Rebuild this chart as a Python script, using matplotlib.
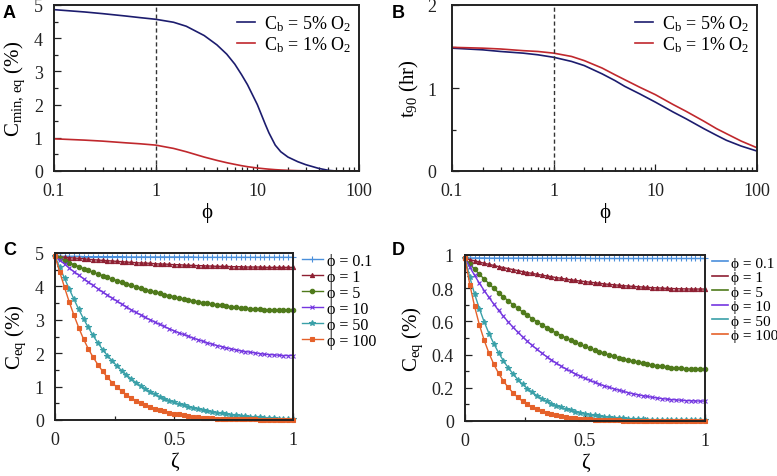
import matplotlib
matplotlib.use('Agg')
import matplotlib.pyplot as plt
from matplotlib.lines import Line2D
from matplotlib.ticker import NullFormatter, MultipleLocator

# ---- panel A / B data ----
phi_a = [0.1, 0.2, 0.3, 0.5, 0.7, 1, 1.5, 2, 3, 4, 5, 6, 7, 8, 10, 12, 13, 15, 17, 20, 25, 30, 40, 50, 60, 100]
cmin_5 = [4.86, 4.79, 4.74, 4.67, 4.62, 4.57, 4.48, 4.36, 4.08, 3.80, 3.52, 3.22, 2.90, 2.60, 2.00, 1.40,
          1.15, 0.78, 0.58, 0.42, 0.28, 0.19, 0.08, 0.02, 0.0, 0.0]
cmin_1 = [0.97, 0.93, 0.90, 0.85, 0.82, 0.78, 0.68, 0.58, 0.42, 0.32, 0.25, 0.20, 0.16, 0.13, 0.09, 0.065,
          0.055, 0.04, 0.03, 0.02, 0.01, 0.005, 0.0, 0.0, 0.0, 0.0]

phi_b = [0.1, 0.2, 0.3, 0.5, 0.7, 1, 1.5, 2, 3, 4, 5, 7, 10, 15, 20, 30, 40, 50, 70, 100]
t90_5 = [1.48, 1.46, 1.44, 1.42, 1.40, 1.37, 1.32, 1.27, 1.17, 1.09, 1.02, 0.93, 0.83, 0.71, 0.63, 0.51,
         0.43, 0.37, 0.30, 0.24]
t90_1 = [1.49, 1.48, 1.47, 1.45, 1.44, 1.42, 1.38, 1.33, 1.24, 1.16, 1.10, 1.01, 0.92, 0.80, 0.72, 0.60,
         0.51, 0.45, 0.36, 0.28]

# ---- panel C / D data ----
zeta = [round(i * 0.02, 2) for i in range(51)]
phi_labels = ['0.1', '1', '5', '10', '50', '100']

c_01 = [4.90, 4.90, 4.90, 4.90, 4.90, 4.90, 4.89, 4.89, 4.89, 4.89,
        4.89, 4.89, 4.89, 4.89, 4.89, 4.88, 4.88, 4.88, 4.88, 4.88,
        4.88, 4.88, 4.88, 4.88, 4.88, 4.88, 4.88, 4.88, 4.88, 4.88,
        4.87, 4.87, 4.87, 4.87, 4.87, 4.87, 4.87, 4.87, 4.87, 4.87,
        4.87, 4.87, 4.87, 4.87, 4.87, 4.87, 4.87, 4.87, 4.87, 4.87,
        4.87]
c_1 = [4.90, 4.89, 4.87, 4.86, 4.85, 4.84, 4.83, 4.81, 4.80, 4.79,
       4.78, 4.77, 4.76, 4.75, 4.74, 4.73, 4.72, 4.71, 4.70, 4.70,
       4.69, 4.68, 4.67, 4.67, 4.66, 4.65, 4.65, 4.64, 4.63, 4.63,
       4.62, 4.62, 4.61, 4.61, 4.60, 4.60, 4.60, 4.59, 4.59, 4.59,
       4.58, 4.58, 4.58, 4.58, 4.57, 4.57, 4.57, 4.57, 4.57, 4.57,
       4.57]
c_5 = [4.90, 4.84, 4.77, 4.71, 4.65, 4.59, 4.53, 4.48, 4.42, 4.37,
       4.32, 4.27, 4.22, 4.17, 4.12, 4.07, 4.03, 3.99, 3.94, 3.90,
       3.86, 3.83, 3.79, 3.75, 3.72, 3.69, 3.65, 3.62, 3.59, 3.57,
       3.54, 3.51, 3.49, 3.47, 3.45, 3.43, 3.41, 3.39, 3.37, 3.36,
       3.34, 3.33, 3.32, 3.31, 3.30, 3.30, 3.29, 3.29, 3.28, 3.28,
       3.28]
c_10 = [4.90, 4.78, 4.67, 4.55, 4.44, 4.34, 4.23, 4.13, 4.03, 3.93,
        3.83, 3.74, 3.65, 3.56, 3.47, 3.39, 3.30, 3.22, 3.15, 3.07,
        3.00, 2.93, 2.86, 2.80, 2.73, 2.67, 2.61, 2.56, 2.51, 2.45,
        2.41, 2.36, 2.31, 2.27, 2.23, 2.20, 2.16, 2.13, 2.10, 2.07,
        2.05, 2.03, 2.01, 1.99, 1.97, 1.96, 1.95, 1.94, 1.93, 1.93,
        1.93]
c_50 = [4.90, 4.57, 4.24, 3.92, 3.61, 3.31, 3.03, 2.77, 2.53, 2.31,
        2.11, 1.93, 1.77, 1.62, 1.48, 1.35, 1.23, 1.12, 1.02, 0.93,
        0.85, 0.77, 0.70, 0.64, 0.58, 0.53, 0.48, 0.44, 0.40, 0.36,
        0.33, 0.30, 0.27, 0.24, 0.22, 0.20, 0.18, 0.16, 0.14, 0.13,
        0.11, 0.10, 0.09, 0.08, 0.07, 0.06, 0.05, 0.04, 0.04, 0.03,
        0.03]
c_100 = [4.90, 4.43, 3.97, 3.53, 3.13, 2.76, 2.42, 2.13, 1.88, 1.66,
         1.46, 1.28, 1.12, 0.98, 0.87, 0.76, 0.66, 0.58, 0.51, 0.45,
         0.39, 0.34, 0.30, 0.26, 0.22, 0.19, 0.17, 0.14, 0.12, 0.10,
         0.09, 0.07, 0.06, 0.05, 0.04, 0.04, 0.03, 0.03, 0.03, 0.02,
         0.02, 0.02, 0.02, 0.01, 0.01, 0.01, 0.01, 0.01, 0.01, 0.01,
         0.01]

d_01 = [0.982, 0.982, 0.982, 0.982, 0.982, 0.981, 0.981, 0.981, 0.981, 0.981,
        0.981, 0.981, 0.981, 0.980, 0.980, 0.980, 0.980, 0.980, 0.980, 0.980,
        0.980, 0.980, 0.980, 0.980, 0.980, 0.980, 0.979, 0.979, 0.979, 0.979,
        0.979, 0.979, 0.979, 0.979, 0.979, 0.979, 0.979, 0.979, 0.979, 0.979,
        0.979, 0.979, 0.979, 0.979, 0.979, 0.979, 0.979, 0.979, 0.979, 0.979,
        0.979]
d_1 = [0.980, 0.972, 0.965, 0.958, 0.950, 0.944, 0.937, 0.930, 0.924, 0.918,
       0.912, 0.906, 0.900, 0.894, 0.889, 0.884, 0.879, 0.874, 0.869, 0.864,
       0.860, 0.855, 0.851, 0.847, 0.843, 0.840, 0.836, 0.833, 0.830, 0.826,
       0.823, 0.821, 0.818, 0.815, 0.813, 0.811, 0.809, 0.807, 0.805, 0.803,
       0.802, 0.801, 0.799, 0.798, 0.797, 0.796, 0.796, 0.795, 0.795, 0.795,
       0.795]
d_5 = [0.980, 0.946, 0.915, 0.884, 0.855, 0.827, 0.799, 0.773, 0.748, 0.724,
       0.701, 0.679, 0.657, 0.637, 0.617, 0.598, 0.580, 0.563, 0.546, 0.530,
       0.515, 0.501, 0.487, 0.474, 0.461, 0.449, 0.438, 0.427, 0.417, 0.407,
       0.398, 0.389, 0.381, 0.373, 0.366, 0.359, 0.353, 0.347, 0.342, 0.337,
       0.333, 0.329, 0.325, 0.322, 0.320, 0.317, 0.315, 0.314, 0.313, 0.312,
       0.312]
d_10 = [0.980, 0.927, 0.877, 0.830, 0.786, 0.744, 0.704, 0.666, 0.631, 0.597,
        0.565, 0.535, 0.507, 0.480, 0.455, 0.431, 0.409, 0.388, 0.368, 0.349,
        0.331, 0.314, 0.299, 0.284, 0.270, 0.257, 0.245, 0.233, 0.222, 0.212,
        0.203, 0.194, 0.186, 0.178, 0.171, 0.164, 0.158, 0.153, 0.148, 0.143,
        0.139, 0.135, 0.132, 0.129, 0.127, 0.125, 0.123, 0.122, 0.121, 0.120,
        0.120]
d_50 = [0.980, 0.866, 0.765, 0.676, 0.597, 0.527, 0.466, 0.411, 0.363, 0.321,
        0.284, 0.250, 0.221, 0.195, 0.173, 0.152, 0.135, 0.119, 0.105, 0.093,
        0.082, 0.072, 0.064, 0.057, 0.050, 0.044, 0.039, 0.034, 0.030, 0.027,
        0.024, 0.021, 0.019, 0.016, 0.015, 0.013, 0.011, 0.010, 0.009, 0.008,
        0.007, 0.006, 0.006, 0.005, 0.005, 0.005, 0.004, 0.004, 0.004, 0.004,
        0.004]
d_100 = [0.980, 0.822, 0.690, 0.579, 0.486, 0.408, 0.342, 0.287, 0.241, 0.202,
         0.170, 0.142, 0.119, 0.100, 0.084, 0.071, 0.059, 0.050, 0.042, 0.035,
         0.029, 0.025, 0.021, 0.017, 0.015, 0.012, 0.010, 0.009, 0.007, 0.006,
         0.005, 0.004, 0.004, 0.003, 0.003, 0.002, 0.002, 0.002, 0.002, 0.001,
         0.001, 0.001, 0.001, 0.001, 0.001, 0.001, 0.001, 0.000, 0.000, 0.000,
         0.000]

c_series = [c_01, c_1, c_5, c_10, c_50, c_100]
d_series = [d_01, d_1, d_5, d_10, d_50, d_100]
colors = ['#4A8FDB', '#8E1F32', '#4F7A1B', '#7436E0', '#3AA0A8', '#E5612A']
markers = ['+', '^', 'o', 'x', '*', 's']
msizes = [4.0, 3.0, 3.2, 3.2, 4.0, 3.2]

plt.rcParams['font.family'] = ['Liberation Serif', 'DejaVu Serif']
plt.rcParams['mathtext.fontset'] = 'custom'
plt.rcParams['mathtext.rm'] = 'Liberation Serif'
plt.rcParams['mathtext.it'] = 'Liberation Serif:italic'
plt.rcParams['font.size'] = 13


def style(ax):
    ax.tick_params(which='both', direction='in', top=False, right=False, width=0.9, colors='#222222')
    ax.tick_params(which='major', length=5, labelsize=13)
    ax.tick_params(which='minor', length=3)
    ax.tick_params(axis='x', pad=8)
    ax.tick_params(axis='y', pad=8)
    for s in ax.spines.values():
        s.set_linewidth(1.4)
        s.set_color('#222222')


fig = plt.figure(figsize=(7.77, 4.77), dpi=100)
W, H = 777, 477


def add_ax(l, t, r, b):
    return fig.add_axes([l / W, 1 - b / H, (r - l) / W, (b - t) / H])


navy = '#1C1C6E'
red = '#C0282D'

# ---- A ----
axA = add_ax(54, 6, 359, 172)
axA.plot(phi_a, cmin_5, color=navy, lw=1.2, label='C$_\\mathrm{b}$ = 5% O$_2$')
axA.plot(phi_a, cmin_1, color=red, lw=1.2, label='C$_\\mathrm{b}$ = 1% O$_2$')
axA.axvline(1, color='#333333', ls=(0, (3, 2)), lw=1.0)
axA.set_xscale('log')
axA.set_xlim(0.1, 100)
axA.set_ylim(0, 5)
axA.set_xticks([0.1, 1, 10, 100])
axA.set_xticklabels(['0.1', '1', '10', '100'])
axA.xaxis.set_minor_formatter(NullFormatter())
axA.yaxis.set_major_locator(MultipleLocator(1))
axA.yaxis.set_minor_locator(MultipleLocator(0.5))
axA.set_xlabel('ϕ', fontsize=15, labelpad=2)
axA.set_ylabel('C$_\\mathrm{min,\\,eq}$ (%)', fontsize=15, labelpad=5)
axA.legend(loc='upper right', frameon=False, fontsize=13, handlelength=1.0,
           handletextpad=0.5, labelspacing=0.1, borderaxespad=0.05)
style(axA)

# ---- B ----
axB = add_ax(452, 6, 757, 172)
axB.plot(phi_b, t90_5, color=navy, lw=1.2, label='C$_\\mathrm{b}$ = 5% O$_2$')
axB.plot(phi_b, t90_1, color=red, lw=1.2, label='C$_\\mathrm{b}$ = 1% O$_2$')
axB.axvline(1, color='#333333', ls=(0, (3, 2)), lw=1.0)
axB.set_xscale('log')
axB.set_xlim(0.1, 100)
axB.set_ylim(0, 2)
axB.set_xticks([0.1, 1, 10, 100])
axB.set_xticklabels(['0.1', '1', '10', '100'])
axB.xaxis.set_minor_formatter(NullFormatter())
axB.set_yticks([0, 1, 2])
axB.yaxis.set_minor_locator(MultipleLocator(0.5))
axB.set_xlabel('ϕ', fontsize=15, labelpad=2)
axB.set_ylabel('t$_\\mathrm{90}$ (hr)', fontsize=15, labelpad=5)
axB.legend(loc='upper right', frameon=False, fontsize=13, handlelength=1.0,
           handletextpad=0.5, labelspacing=0.1, borderaxespad=0.05)
style(axB)
axB.tick_params(axis='y', pad=11)

# ---- C ----
axC = add_ax(55, 254, 293, 421)
for ys, c, m, ms, lab in zip(c_series, colors, markers, msizes, phi_labels):
    axC.plot(zeta, ys, color=c, lw=1.0, marker=m, ms=ms, mew=0.8, label='ϕ = ' + lab, clip_on=False)
axC.set_xlim(0, 1)
axC.set_ylim(0, 5)
axC.set_xticks([0, 0.5, 1])
axC.set_xticklabels(['0', '0.5', '1'])
axC.xaxis.set_minor_locator(MultipleLocator(0.25))
axC.yaxis.set_major_locator(MultipleLocator(1))
axC.yaxis.set_minor_locator(MultipleLocator(0.5))
axC.set_xlabel('ζ', fontsize=15, labelpad=3)
axC.set_ylabel('C$_\\mathrm{eq}$ (%)', fontsize=15, labelpad=5)
axC.legend(loc='upper left', bbox_to_anchor=(1.01, 1.04), frameon=False, fontsize=11.5,
           handlelength=1.3, handletextpad=0.3, labelspacing=0.0, borderaxespad=0)
style(axC)

# ---- D ----
axD = add_ax(465, 256, 705, 422)
for ys, c, m, ms in zip(d_series, colors, markers, msizes):
    axD.plot(zeta, ys, color=c, lw=1.0, marker=m, ms=ms, mew=0.8, clip_on=False)
axD.set_xlim(0, 1)
axD.set_ylim(0, 1)
axD.set_xticks([0, 0.5, 1])
axD.set_xticklabels(['0', '0.5', '1'])
axD.set_yticks([0, 0.2, 0.4, 0.6, 0.8, 1])
axD.set_yticklabels(['0', '0.2', '0.4', '0.6', '0.8', '1'])
axD.xaxis.set_minor_locator(MultipleLocator(0.25))
axD.yaxis.set_minor_locator(MultipleLocator(0.1))
axD.set_xlabel('ζ', fontsize=15, labelpad=3)
axD.set_ylabel('C$_\\mathrm{eq}$ (%)', fontsize=15, labelpad=5)
handles = [Line2D([], [], color=c, lw=1.2) for c in colors]
axD.legend(handles, ['ϕ = ' + lab for lab in phi_labels], loc='upper left',
           bbox_to_anchor=(1.005, 1.03), frameon=False, fontsize=11,
           handlelength=1.0, handletextpad=0.2, labelspacing=0.05, borderaxespad=0)
style(axD)

# panel letters
for x, y, letter in [(3, 14, 'A'), (392, 14, 'B'), (3, 251, 'C'), (392, 251, 'D')]:
    fig.text(x / W, 1 - y / H, letter, fontsize=13, fontweight='bold',
             family='Liberation Sans', va='center', ha='left')

fig.savefig('out.png', dpi=100)
